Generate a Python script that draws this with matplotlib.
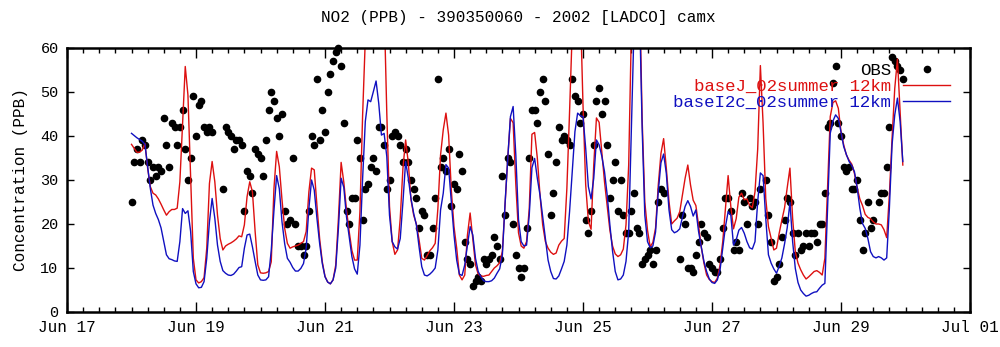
import matplotlib
matplotlib.use('Agg')
import matplotlib.pyplot as plt
import matplotlib.dates as mdates
import numpy as np
import pandas as pd

# hourly series, Jun 18 00:00 .. Jun 29 23:00 (12 values per row, 2 rows per day)
start = '2002-06-18 00:00'

obs = [
    25, 34, 37, 34, 39, 38, 34, 30, 33, 31, 33, 32,  # Jun 18
    44, 38, 33, 43, 42, 38, 42, 46, 37, 30, 35, 49,
    40, 47, 48, 42, 41, 42, 41, None, None, None, 28, 42,  # Jun 19
    41, 40, 37, 39, 39, 38, 23, 32, 31, 27, 37, 36,
    35, 31, 39, 46, 50, 48, 44, 40, 45, 23, 20, 21,  # Jun 20
    35, 20, 15, 15, 13, 15, 23, 40, 38, 53, 39, 46,
    41, 50, 54, 57, 59, 60, 56, 43, 23, 20, 26, 26,  # Jun 21
    39, 35, 21, 28, 29, 33, 35, 32, 42, 42, 38, 28,
    30, 40, 41, 40, 38, 34, 37, 34, 30, 28, 26, 19,  # Jun 22
    23, 22, 13, 13, 19, 26, 53, 33, 35, 32, 37, 24,
    29, 28, 36, 32, 16, 12, 11, 6, 7, 8, 7, 12,  # Jun 23
    11, 12, 13, 17, 15, 12, 31, 22, 35, 34, 20, 13,
    10, 8, 10, 19, 35, 46, 46, 43, 50, 53, 48, 36,  # Jun 24
    22, 27, 34, 42, 39, 40, 39, 38, 53, 49, 48, 43,
    45, 21, 18, 23, 38, 48, 51, 45, 48, 38, 26, 30,  # Jun 25
    34, 23, 30, 22, 18, 18, 23, 27, 19, 18, 11, 12,
    13, 14, 11, 14, 25, 28, 27, None, None, None, None, None,  # Jun 26
    12, 22, 20, 10, 10, 9, 13, 16, 20, 18, 17, 11,
    10, 9, 9, 12, 19, 26, 26, 23, 14, 16, 14, 27,  # Jun 27
    25, 20, 26, 24, 25, 20, 28, None, 30, 22, 16, 7,
    8, 11, 17, 21, 26, 25, 18, 13, 18, 14, 15, 18,  # Jun 28
    15, 18, 18, 16, 20, 20, 27, 42, 43, 52, 56, 43,
    40, 33, 32, 33, 28, 28, 30, 21, 14, 18, 25, 19,  # Jun 29
    21, None, 25, 27, 27, 33, 42, 58, 57, 56, 55, 53,
]

base_j = [
    38.1, 37.2, 36.3, 36.3, 36.8, 38.3, 32.7, 28.5, 27.0, 26.6, 25.7, 24.5,  # Jun 18
    23.2, 22.0, 22.8, 23.3, 23.3, 23.6, 29.6, 42.5, 55.8, 49.3, 30.4, 12.2,
    7.3, 6.6, 6.9, 7.8, 14.5, 29.2, 34.2, 29.6, 22.0, 16.7, 14.1, 15.0,  # Jun 19
    15.4, 15.7, 16.1, 16.6, 17.3, 17.1, 19.8, 26.2, 29.6, 27.3, 18.3, 10.7,
    8.9, 8.8, 8.9, 9.2, 11.4, 28.0, 36.5, 33.0, 25.5, 19.0, 15.6, 14.5,  # Jun 20
    14.8, 15.0, 15.2, 15.6, 16.0, 18.3, 27.3, 32.7, 32.3, 24.2, 16.7, 11.4,
    8.1, 6.8, 6.4, 7.3, 10.7, 21.3, 34.0, 29.5, 23.2, 18.3, 14.0, 11.8,  # Jun 21
    11.8, 22.8, 44.8, 62.0, 72.0, 80.0, 85.0, 83.0, 78.0, 74.0, 70.0, 45.0,
    24.0, 16.0, 13.1, 14.1, 21.3, 32.7, 39.1, 33.9, 25.5, 22.0, 20.0, 16.4,  # Jun 22
    12.2, 11.8, 12.8, 13.9, 14.6, 15.6, 23.5, 35.7, 41.4, 45.2, 40.2, 27.7,
    19.4, 14.5, 8.4, 7.3, 8.4, 17.5, 22.5, 16.7, 10.7, 8.6, 8.2, 8.1,  # Jun 23
    8.3, 8.4, 9.2, 10.0, 10.5, 11.2, 13.8, 24.2, 34.9, 44.0, 43.0, 29.0,
    18.0, 15.0, 14.5, 16.0, 23.5, 40.4, 40.8, 35.0, 26.6, 19.8, 16.0, 14.5,  # Jun 24
    13.6, 13.1, 13.4, 15.2, 16.1, 16.7, 28.1, 45.5, 64.0, 74.0, 78.0, 70.0,
    47.0, 28.9, 20.6, 18.8, 33.4, 44.1, 43.1, 36.4, 29.6, 24.2, 18.6, 15.0,  # Jun 25
    13.2, 12.6, 13.0, 14.3, 19.8, 33.4, 64.0, 80.0, 85.0, 75.0, 44.0, 25.0,
    18.6, 14.8, 15.8, 19.1, 28.8, 36.0, 39.4, 32.7, 25.1, 20.0, 20.7, 21.3,  # Jun 26
    22.8, 26.6, 30.4, 33.4, 28.9, 25.4, 24.2, 19.7, 14.8, 11.1, 8.4, 7.4,
    6.9, 6.7, 7.7, 10.7, 16.0, 23.5, 31.0, 24.0, 18.9, 21.2, 26.1, 27.0,  # Jun 27
    25.5, 25.7, 24.2, 23.7, 27.3, 37.0, 56.0, 43.0, 25.8, 19.4, 16.8, 14.1,
    14.5, 17.9, 20.9, 23.7, 28.3, 32.7, 21.3, 13.7, 11.1, 9.6, 8.4, 7.5,  # Jun 28
    8.0, 8.6, 9.2, 9.4, 9.0, 8.4, 12.2, 28.0, 44.4, 47.6, 48.0, 46.3,
    41.0, 38.0, 35.7, 34.5, 33.6, 31.5, 28.3, 25.7, 24.2, 22.2, 21.5, 21.2,  # Jun 29
    20.5, 20.0, 20.0, 19.8, 18.7, 16.9, 26.6, 39.5, 50.8, 57.5, 45.6, 33.4,
]

base_i2c = [
    40.6, 40.1, 39.6, 39.2, 38.8, 38.1, 33.0, 28.1, 24.3, 22.4, 21.0, 19.1,  # Jun 18
    16.0, 13.0, 12.1, 11.9, 11.6, 11.5, 16.0, 23.5, 22.4, 23.0, 18.3, 9.2,
    6.4, 5.5, 5.6, 6.9, 12.2, 20.5, 25.8, 21.3, 15.2, 11.5, 9.4, 8.8,  # Jun 19
    8.4, 8.3, 8.6, 9.3, 10.1, 10.3, 14.5, 17.5, 17.7, 14.8, 11.5, 8.4,
    7.3, 7.2, 7.3, 8.0, 14.0, 23.0, 31.0, 28.0, 20.5, 15.5, 12.2, 11.3,  # Jun 20
    10.1, 9.3, 9.3, 9.9, 11.0, 14.5, 23.5, 30.0, 27.7, 21.3, 15.6, 11.0,
    8.0, 6.8, 6.4, 7.3, 10.0, 19.1, 30.4, 28.3, 21.6, 17.1, 12.6, 9.8,  # Jun 21
    8.6, 15.2, 30.4, 43.3, 48.2, 47.8, 50.1, 52.5, 47.4, 40.2, 40.6, 35.3,
    22.0, 16.0, 14.8, 14.3, 16.7, 25.0, 34.2, 30.4, 25.8, 22.4, 19.8, 14.8,  # Jun 22
    10.3, 8.4, 8.2, 8.6, 9.2, 10.0, 14.1, 23.2, 27.0, 33.5, 32.7, 25.1,
    17.5, 11.8, 8.6, 8.3, 10.7, 15.2, 19.4, 17.5, 12.2, 9.2, 8.0, 7.1,  # Jun 23
    6.9, 6.9, 7.1, 7.7, 8.8, 9.8, 13.0, 24.7, 34.9, 44.4, 46.7, 35.7,
    21.0, 16.0, 15.0, 15.2, 22.0, 32.8, 34.9, 30.4, 26.6, 21.6, 16.4, 11.8,  # Jun 24
    9.2, 7.6, 7.5, 8.2, 9.8, 11.5, 15.2, 22.8, 31.9, 41.0, 45.2, 44.6,
    44.4, 37.2, 28.5, 25.7, 30.4, 39.1, 38.0, 35.4, 31.9, 26.6, 19.8, 13.8,  # Jun 25
    9.2, 7.3, 7.5, 8.4, 11.5, 18.3, 41.7, 65.0, 75.0, 70.0, 42.0, 22.0,
    16.0, 14.6, 15.0, 18.2, 27.3, 33.9, 35.9, 31.5, 23.2, 18.7, 18.0, 18.3,  # Jun 26
    18.9, 21.6, 24.0, 25.3, 24.0, 21.8, 23.2, 18.3, 14.8, 11.5, 9.2, 7.5,
    6.7, 6.5, 7.3, 9.6, 14.5, 19.4, 22.8, 22.0, 15.2, 16.4, 18.6, 19.2,  # Jun 27
    17.9, 16.0, 14.6, 14.3, 16.0, 25.1, 31.6, 31.0, 21.3, 13.0, 11.1, 9.8,
    8.8, 10.4, 12.3, 15.5, 19.2, 24.9, 16.0, 9.9, 6.7, 5.0, 4.2, 3.6,  # Jun 28
    3.8, 4.2, 4.5, 4.6, 5.4, 6.1, 6.5, 23.6, 40.6, 43.4, 44.8, 44.0,
    40.9, 37.6, 35.8, 34.2, 33.3, 31.9, 28.3, 23.6, 20.1, 19.0, 16.7, 13.7,  # Jun 29
    12.6, 12.3, 12.6, 12.3, 11.8, 12.3, 23.6, 38.0, 44.8, 48.6, 43.3, 34.2,
]

x_ticks = pd.date_range('2002-06-17', '2002-07-01', freq='2D')

mono = 'Liberation Mono'
red = '#dd1010'
blue = '#1010c0'

times = pd.date_range(start, periods=len(base_j), freq='h')
obs_arr = np.array([np.nan if v is None else v for v in obs], dtype=float)

fig = plt.figure(figsize=(10, 3.47), dpi=100)
ax = fig.add_axes([0.067, 0.1009, 0.903, 0.7608])

ax.plot(times[:len(obs_arr)], obs_arr, 'o', color='black', markersize=4.5,
        label='OBS', clip_on=False)
ax.plot(times, base_j, color=red, lw=1.0, label='baseJ_02summer 12km')
ax.plot(times, base_i2c, color=blue, lw=1.0, label='baseI2c_02summer 12km')

ax.set_xlim(pd.Timestamp('2002-06-17'), pd.Timestamp('2002-07-01'))
ax.set_xticks(x_ticks)
ax.xaxis.set_major_formatter(mdates.DateFormatter('%b %d'))
ax.xaxis.set_minor_locator(mdates.HourLocator(byhour=[0, 6, 12, 18]))
ax.set_ylim(0, 60)
ax.set_yticks(range(0, 61, 10))

ax.tick_params(which='both', direction='in', top=True, right=True, width=1)
ax.tick_params(axis='x', which='major', length=7, pad=6)
ax.tick_params(axis='x', which='minor', length=3.5)
ax.tick_params(axis='y', which='major', length=5, pad=6)
for lab in ax.get_xticklabels():
  lab.set_family(mono)
  lab.set_fontsize(11.5)
for lab in ax.get_yticklabels():
  lab.set_family(mono)
  lab.set_fontsize(11)
for sp in ax.spines.values():
  sp.set_linewidth(1.8)

ax.set_title('NO2 (PPB) - 390350060 - 2002 [LADCO] camx', family=mono,
             fontsize=11.5, pad=19)
ax.set_ylabel('Concentration (PPB)', family=mono, fontsize=11.5, labelpad=9)

leg = ax.legend(loc='upper right', bbox_to_anchor=(0.978, 0.945), frameon=False,
                markerfirst=False, handlelength=2.7, handletextpad=0.7,
                labelspacing=0.05, borderaxespad=0, borderpad=0, numpoints=1,
                prop={'family': mono, 'size': 12.5})
for text, col in zip(leg.get_texts(), ['black', red, blue]):
  text.set_color(col)

fig.savefig('out.png', dpi=100)
